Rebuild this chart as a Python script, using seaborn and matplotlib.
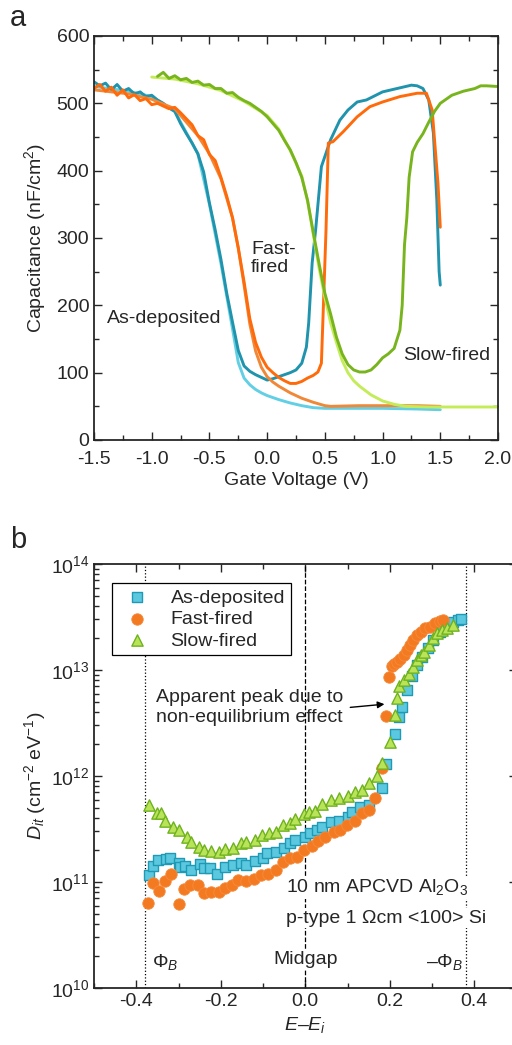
import matplotlib
matplotlib.use('Agg')
import matplotlib.pyplot as plt
import seaborn as sns
import numpy as np
from matplotlib.ticker import MultipleLocator, LogLocator, NullFormatter

sns.set_style('ticks')
plt.rcParams['font.family'] = ['Liberation Sans', 'DejaVu Sans']
plt.rcParams['mathtext.fontset'] = 'custom'
plt.rcParams['mathtext.rm'] = 'Liberation Sans'
plt.rcParams['mathtext.it'] = 'Liberation Sans:italic'
plt.rcParams['axes.unicode_minus'] = False

# ---- panel a: C-V curves ----
v_asdep = [-1.5, -1.45, -1.4, -1.35, -1.3, -1.25, -1.2, -1.15, -1.1, -1.05, -1.0, -0.95, -0.9, -0.85,
           -0.8, -0.75, -0.7, -0.65, -0.6, -0.55, -0.5, -0.45, -0.4, -0.35, -0.3, -0.25, -0.2, -0.15,
           -0.1, -0.05, 0.0, 0.05, 0.1, 0.15, 0.2, 0.25, 0.3, 0.34, 0.36, 0.39, 0.42, 0.47, 0.55,
           0.63, 0.7, 0.78, 0.86, 1.0, 1.1, 1.2, 1.25, 1.3, 1.35, 1.4, 1.44, 1.47, 1.49, 1.5]
c_asdep = [532, 526, 530, 520, 528, 518, 522, 514, 517, 510, 512, 505, 500, 493,
           488, 470, 455, 441, 425, 398, 352, 312, 268, 218, 175, 133, 110, 102,
           97, 93, 89, 91, 94, 97, 100, 104, 114, 138, 174, 263, 312, 406, 446,
           475, 490, 502, 505, 517, 521, 525, 527, 526, 522, 505, 456, 356, 250, 230]
v_asdep_hf = [-1.5, -1.2, -1.0, -0.8, -0.6, -0.5, -0.4, -0.3, -0.25, -0.2, -0.15, -0.1, -0.05,
              0.0, 0.1, 0.2, 0.3, 0.4, 0.5, 0.7, 1.0, 1.3, 1.5]
c_asdep_hf = [525, 518, 510, 488, 425, 350, 262, 165, 115, 92, 82, 75, 70,
              66, 60, 55, 51, 48, 47, 47, 47, 46, 45]

v_fast = [-1.5, -1.45, -1.4, -1.35, -1.3, -1.25, -1.2, -1.15, -1.1, -1.05, -1.0, -0.95, -0.9, -0.85,
          -0.8, -0.75, -0.7, -0.65, -0.6, -0.55, -0.5, -0.45, -0.4, -0.35, -0.3, -0.25, -0.2, -0.15,
          -0.1, -0.05, 0.0, 0.05, 0.1, 0.15, 0.2, 0.25, 0.3, 0.35, 0.4, 0.44, 0.47, 0.49, 0.51,
          0.53, 0.57, 0.66, 0.78, 0.89, 1.0, 1.15, 1.3, 1.38, 1.43, 1.45, 1.48, 1.5]
c_fast = [522, 528, 518, 524, 512, 520, 508, 513, 504, 507, 498, 500, 496, 492,
          494, 486, 477, 468, 452, 446, 424, 415, 390, 362, 330, 285, 235, 180,
          145, 123, 108, 100, 93, 88, 84, 84, 87, 92, 96, 101, 114, 212, 312,
          441, 443, 458, 480, 495, 502, 510, 515, 515, 490, 446, 381, 316]
v_fast_hf = [-1.5, -1.2, -1.0, -0.8, -0.6, -0.5, -0.4, -0.3, -0.25, -0.2, -0.15, -0.1, -0.05,
             0.0, 0.05, 0.1, 0.2, 0.3, 0.4, 0.5, 0.55, 0.8, 1.0, 1.3, 1.5]
c_fast_hf = [520, 514, 506, 492, 452, 425, 388, 330, 285, 230, 172, 132, 108,
             94, 86, 80, 70, 62, 56, 51, 50, 51, 51, 51, 50]

v_slow = [-0.95, -0.9, -0.85, -0.8, -0.75, -0.7, -0.65, -0.6, -0.55, -0.5, -0.45, -0.4, -0.35,
          -0.3, -0.25, -0.2, -0.15, -0.1, -0.05, 0.0, 0.05, 0.1, 0.15, 0.2, 0.25, 0.3, 0.35,
          0.4, 0.45, 0.5, 0.55, 0.6, 0.65, 0.7, 0.75, 0.8, 0.85, 0.9, 0.95, 1.0, 1.05, 1.1,
          1.15, 1.17, 1.19, 1.21, 1.23, 1.26, 1.3, 1.35, 1.4, 1.45, 1.5, 1.6, 1.7, 1.8, 1.85,
          1.9, 2.0]
c_slow = [540, 546, 537, 541, 535, 537, 531, 533, 527, 528, 522, 522, 515,
          516, 509, 504, 500, 494, 488, 480, 470, 460, 445, 431, 412, 390, 356,
          308, 262, 218, 187, 153, 128, 112, 104, 101, 101, 104, 112, 122, 128, 136,
          163, 200, 290, 330, 390, 428, 442, 455, 472, 488, 500, 512, 518, 522, 526,
          526, 525]
v_slow_hf = [-1.0, -0.8, -0.6, -0.4, -0.2, 0.0, 0.1, 0.2, 0.3, 0.35, 0.4, 0.45, 0.5, 0.55,
             0.6, 0.65, 0.7, 0.75, 0.8, 0.9, 1.0, 1.1, 1.2, 1.4, 1.6, 2.0]
c_slow_hf = [539, 536, 529, 519, 503, 482, 462, 430, 392, 355, 305, 255, 212, 174,
             145, 118, 100, 88, 80, 67, 58, 53, 50, 49, 49, 49]

# ---- panel b: Dit vs E-Ei ----
e_asdep = [-0.37, -0.36, -0.348, -0.33, -0.32, -0.30, -0.296, -0.284, -0.27, -0.25, -0.24, -0.225,
           -0.21, -0.19, -0.17, -0.153, -0.14, -0.12, -0.10, -0.09, -0.07, -0.05, -0.035, -0.024,
           0.0, 0.012, 0.027, 0.04, 0.06, 0.08, 0.10, 0.11, 0.13, 0.15, 0.182, 0.192, 0.213,
           0.222, 0.23, 0.24, 0.252, 0.265, 0.276, 0.29, 0.303, 0.319, 0.336, 0.35, 0.362, 0.369]
d_asdep = [1.17e11, 1.41e11, 1.62e11, 1.66e11, 1.70e11, 1.51e11, 1.38e11, 1.41e11, 1.29e11, 1.48e11,
           1.35e11, 1.35e11, 1.20e11, 1.38e11, 1.45e11, 1.51e11, 1.45e11, 1.58e11, 1.70e11, 1.86e11,
           1.91e11, 2.09e11, 2.34e11, 2.51e11, 2.63e11, 2.88e11, 3.09e11, 3.31e11, 3.72e11, 3.80e11,
           4.07e11, 4.57e11, 5.13e11, 5.37e11, 7.76e11, 1.29e12, 2.51e12, 3.63e12, 4.47e12, 6.46e12,
           8.71e12, 1.12e13, 1.32e13, 1.62e13, 1.91e13, 2.29e13, 2.63e13, 2.82e13, 2.95e13, 3.02e13]

e_fast = [-0.372, -0.36, -0.345, -0.332, -0.317, -0.30, -0.288, -0.272, -0.255, -0.24, -0.223,
          -0.205, -0.189, -0.173, -0.158, -0.14, -0.122, -0.104, -0.087, -0.069, -0.052, -0.035,
          -0.02, -0.004, 0.016, 0.031, 0.047, 0.067, 0.083, 0.099, 0.117, 0.134, 0.15, 0.166,
          0.182, 0.192, 0.199, 0.206, 0.209, 0.217, 0.225, 0.233, 0.24, 0.247, 0.256, 0.265,
          0.274, 0.284, 0.296, 0.308, 0.32, 0.327]
d_fast = [6.3e10, 9.8e10, 8.3e10, 1.02e11, 1.20e11, 6.2e10, 8.5e10, 9.3e10, 9.3e10, 7.8e10, 8.1e10,
          8.1e10, 8.7e10, 9.3e10, 1.05e11, 1.02e11, 1.07e11, 1.17e11, 1.20e11, 1.29e11, 1.55e11,
          1.70e11, 1.74e11, 2.0e11, 2.19e11, 2.45e11, 2.63e11, 2.95e11, 3.09e11, 3.47e11, 3.80e11,
          4.47e11, 4.79e11, 6.17e11, 1.20e12, 3.72e12, 8.51e12, 1.10e13, 1.15e13, 1.20e13, 1.26e13,
          1.38e13, 1.55e13, 1.74e13, 1.91e13, 2.14e13, 2.29e13, 2.51e13, 2.57e13, 2.75e13, 2.88e13,
          2.95e13]

e_slow = [-0.37, -0.35, -0.342, -0.332, -0.313, -0.30, -0.28, -0.27, -0.252, -0.24, -0.223, -0.205,
          -0.19, -0.17, -0.152, -0.14, -0.12, -0.103, -0.085, -0.07, -0.052, -0.035, -0.024,
          -0.004, 0.008, 0.024, 0.04, 0.061, 0.081, 0.10, 0.118, 0.134, 0.15, 0.17, 0.182, 0.201,
          0.213, 0.218, 0.223, 0.233, 0.245, 0.255, 0.265, 0.274, 0.282, 0.292, 0.303, 0.312,
          0.324, 0.336, 0.35]
d_slow = [5.37e11, 4.47e11, 4.47e11, 3.80e11, 3.31e11, 3.09e11, 2.63e11, 2.40e11, 2.14e11, 2.0e11,
          1.95e11, 1.91e11, 2.04e11, 2.09e11, 2.34e11, 2.40e11, 2.51e11, 2.75e11, 2.88e11, 2.95e11,
          3.47e11, 3.63e11, 3.89e11, 4.37e11, 4.57e11, 4.68e11, 5.50e11, 5.89e11, 6.17e11, 6.46e11,
          7.08e11, 7.41e11, 8.51e11, 1.0e12, 1.32e12, 2.09e12, 3.80e12, 5.50e12, 7.08e12, 8.13e12,
          9.12e12, 1.07e13, 1.23e13, 1.38e13, 1.48e13, 1.74e13, 2.0e13, 2.24e13, 2.40e13, 2.51e13,
          2.63e13]

FS = 14
fig = plt.figure(figsize=(5.12, 10.45), dpi=100)

# ================= panel a =================
ax = fig.add_axes([94 / 512, 605 / 1045, 404 / 512, 404 / 1045])
curves = [
    (v_asdep_hf, c_asdep_hf, '#62cfe4'),
    (v_asdep, c_asdep, '#2093ad'),
    (v_fast_hf, c_fast_hf, '#f08838'),
    (v_fast, c_fast, '#ff6a0a'),
    (v_slow_hf, c_slow_hf, '#c4ec5a'),
    (v_slow, c_slow, '#78b41e'),
]
for xs, ys, col in curves:
    sns.lineplot(x=xs, y=ys, ax=ax, color=col, lw=2.1, sort=False, estimator=None)

ax.set_xlim(-1.5, 2.0)
ax.set_ylim(0, 600)
ax.xaxis.set_major_locator(MultipleLocator(0.5))
ax.xaxis.set_minor_locator(MultipleLocator(0.25))
ax.yaxis.set_major_locator(MultipleLocator(100))
ax.yaxis.set_minor_locator(MultipleLocator(50))
ax.xaxis.set_major_formatter(matplotlib.ticker.FormatStrFormatter('%.1f'))
ax.set_xlabel('Gate Voltage (V)', fontsize=FS, labelpad=3)
ax.set_ylabel('Capacitance (nF/cm$^2$)', fontsize=FS, labelpad=6)

ax.text(-1.39, 181, 'As-deposited', fontsize=FS, va='center', ha='left')
ax.text(-0.14, 270, 'Fast-\nfired', fontsize=FS, va='center', ha='left', linespacing=1.1)
ax.text(1.18, 125, 'Slow-fired', fontsize=FS, va='center', ha='left')

# ================= panel b =================
bx = fig.add_axes([94 / 512, 57 / 1045, 422.5 / 512, 424 / 1045])
bx.set_yscale('log')
sns.scatterplot(x=e_asdep, y=d_asdep, ax=bx, marker='s', s=46, color='#5bc8e0',
                edgecolor='#1f9ab5', linewidth=1.0, label='As-deposited', zorder=3)
sns.scatterplot(x=e_fast, y=d_fast, ax=bx, marker='o', s=68, color='#f47a22',
                edgecolor='#f58a3a', linewidth=0.6, label='Fast-fired', zorder=4)
sns.scatterplot(x=e_slow, y=d_slow, ax=bx, marker='^', s=66, color='#b9e45a',
                edgecolor='#6fb21e', linewidth=1.0, label='Slow-fired', zorder=5)

for xv, ls in [(-0.38, ':'), (0.0, '--'), (0.38, ':')]:
    bx.axvline(xv, color='black', lw=0.9, ls=ls, zorder=1)

bx.set_xlim(-0.5, 0.5)
bx.set_ylim(1e10, 1e14)
bx.xaxis.set_major_locator(MultipleLocator(0.2))
bx.xaxis.set_minor_locator(MultipleLocator(0.1))
bx.xaxis.set_major_formatter(matplotlib.ticker.FormatStrFormatter('%.1f'))
bx.yaxis.set_major_locator(LogLocator(base=10, numticks=10))
bx.yaxis.set_minor_locator(LogLocator(base=10, subs=np.arange(2, 10), numticks=20))
bx.yaxis.set_minor_formatter(NullFormatter())
bx.set_xlabel('$E$–$E_i$', fontsize=FS, labelpad=4)
bx.set_ylabel('$D_{it}$ (cm$^{-2}$ eV$^{-1}$)', fontsize=FS, labelpad=2)

leg = bx.legend(loc='upper left', bbox_to_anchor=(0.043, 0.955), fontsize=FS, frameon=True,
                fancybox=False, edgecolor='black', framealpha=1, borderpad=0.3,
                handletextpad=0.7, labelspacing=0.2, borderaxespad=0)
leg.get_frame().set_linewidth(0.9)
leg.set_zorder(10)

bx.annotate('', xy=(0.194, 10 ** 12.68), xytext=(0.1, 10 ** 12.645),
            arrowprops=dict(arrowstyle='-|>', color='black', lw=1, mutation_scale=10), zorder=6)
bx.text(-0.353, 10 ** 12.645, 'Apparent peak due to\nnon-equilibrium effect', fontsize=FS,
        ha='left', va='center', linespacing=1.25)

box = dict(facecolor='white', edgecolor='none', pad=1)
bx.text(-0.045, 10 ** 10.95, '10 nm APCVD Al$_2$O$_3$', fontsize=FS, ha='left', va='center', bbox=box, zorder=7)
bx.text(-0.045, 10 ** 10.66, 'p-type 1 Ωcm <100> Si', fontsize=FS, ha='left', va='center', bbox=box, zorder=7)
bx.text(-0.362, 10 ** 10.25, r'$\Phi_B$', fontsize=FS, ha='left', va='center', bbox=box, zorder=7)
bx.text(0.0, 10 ** 10.27, 'Midgap', fontsize=FS, ha='center', va='center', bbox=box, zorder=7)
bx.text(0.373, 10 ** 10.25, r'–$\Phi_B$', fontsize=FS, ha='right', va='center', bbox=box, zorder=7)

for a in (ax, bx):
    a.tick_params(which='both', direction='in', top=True, right=True, labelsize=FS, width=1)
    a.tick_params(which='major', length=6)
    a.tick_params(which='minor', length=3.5)
    for sp in a.spines.values():
        sp.set_linewidth(1.3)
        sp.set_visible(True)
    a.grid(False)
ax.tick_params(axis='x', pad=8)

fig.text(10 / 512, 1 - 18 / 1045, 'a', fontsize=21, va='center', ha='left')
fig.text(10 / 512, 1 - 540 / 1045, 'b', fontsize=21, va='center', ha='left')

fig.savefig('out.png', dpi=100)
